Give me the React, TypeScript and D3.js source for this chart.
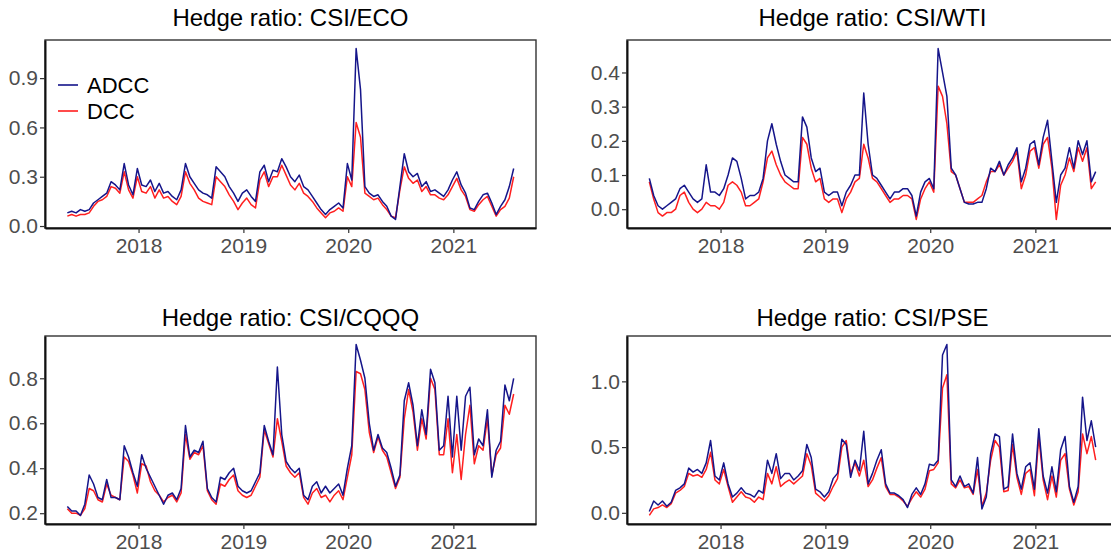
import { useEffect, useRef } from 'react'
import * as d3 from 'd3'

// time span of the series (roughly half-monthly observations)
const startDate = new Date(2017, 3, 28)
const endDate = new Date(2021, 6, 30)
const yearTicks = [2018, 2019, 2020, 2021]
const seriesNames = ['ADCC', 'DCC']

// CSI/ECO
const ecoAdcc = [
  0.08, 0.09, 0.08, 0.10, 0.09, 0.10, 0.14, 0.16, 0.18, 0.20, 0.27, 0.25, 0.22, 0.38, 0.25, 0.19,
  0.35, 0.25, 0.24, 0.28, 0.21, 0.26, 0.20, 0.21, 0.18, 0.16, 0.22, 0.38, 0.30, 0.26, 0.22, 0.20, 0.19, 0.17, 0.36, 0.33, 0.30, 0.24, 0.20, 0.15,
  0.20, 0.22, 0.18, 0.15, 0.33, 0.37, 0.27, 0.34, 0.33, 0.41, 0.36, 0.30, 0.27, 0.31, 0.24, 0.22, 0.18, 0.14, 0.10, 0.07, 0.10, 0.12, 0.14, 0.11,
  0.38, 0.28, 1.08, 0.83, 0.24, 0.20, 0.18, 0.19, 0.15, 0.12, 0.06, 0.04, 0.24, 0.44, 0.33, 0.30, 0.32, 0.24, 0.27, 0.21, 0.22, 0.20, 0.18, 0.22,
  0.28, 0.33, 0.25, 0.20, 0.11, 0.10, 0.15, 0.19, 0.20, 0.14, 0.07, 0.12, 0.16, 0.24, 0.35,
]
const ecoDcc = [
  0.06, 0.07, 0.06, 0.07, 0.07, 0.08, 0.12, 0.15, 0.16, 0.18, 0.24, 0.23, 0.20, 0.33, 0.22, 0.17,
  0.30, 0.21, 0.20, 0.24, 0.17, 0.22, 0.17, 0.18, 0.15, 0.13, 0.18, 0.33, 0.26, 0.22, 0.17, 0.15, 0.14, 0.13, 0.30, 0.27, 0.24, 0.19, 0.15, 0.10,
  0.14, 0.17, 0.13, 0.11, 0.28, 0.33, 0.24, 0.30, 0.30, 0.37, 0.31, 0.25, 0.22, 0.26, 0.20, 0.18, 0.15, 0.11, 0.08, 0.05, 0.08, 0.09, 0.11, 0.09,
  0.30, 0.24, 0.63, 0.54, 0.20, 0.18, 0.16, 0.17, 0.13, 0.10, 0.06, 0.05, 0.22, 0.36, 0.29, 0.26, 0.28, 0.21, 0.24, 0.19, 0.19, 0.17, 0.16, 0.19,
  0.24, 0.29, 0.22, 0.18, 0.10, 0.09, 0.13, 0.16, 0.18, 0.12, 0.06, 0.10, 0.12, 0.17, 0.30,
]
const ecoTicks = [0, 0.3, 0.6, 0.9]

// CSI/WTI
const wtiAdcc = [
  0.09, 0.04, 0.01, 0.00, 0.01, 0.02, 0.03, 0.06, 0.07, 0.05, 0.03, 0.02, 0.03, 0.13, 0.05, 0.05,
  0.04, 0.06, 0.10, 0.15, 0.14, 0.09, 0.03, 0.04, 0.04, 0.05, 0.09, 0.20, 0.25, 0.19, 0.14, 0.10, 0.09, 0.08, 0.08, 0.27, 0.24, 0.15, 0.11, 0.12,
  0.05, 0.04, 0.05, 0.05, 0.01, 0.05, 0.07, 0.10, 0.10, 0.34, 0.19, 0.10, 0.09, 0.07, 0.05, 0.03, 0.05, 0.05, 0.06, 0.06, 0.04, -0.02, 0.05, 0.08,
  0.09, 0.06, 0.47, 0.40, 0.33, 0.12, 0.10, 0.06, 0.02, 0.015, 0.015, 0.02, 0.02, 0.06, 0.12, 0.11, 0.14, 0.10, 0.13, 0.15, 0.18, 0.08, 0.12, 0.19,
  0.20, 0.13, 0.21, 0.26, 0.14, 0.02, 0.10, 0.12, 0.18, 0.12, 0.20, 0.16, 0.20, 0.08, 0.11,
]
const wtiDcc = [
  0.08, 0.03, -0.01, -0.02, -0.01, -0.01, 0.00, 0.04, 0.05, 0.02, 0.00, -0.01, 0.00, 0.02, 0.01, 0.01,
  0.00, 0.02, 0.07, 0.08, 0.07, 0.05, 0.01, 0.01, 0.02, 0.03, 0.08, 0.15, 0.17, 0.13, 0.10, 0.08, 0.07, 0.06, 0.06, 0.21, 0.19, 0.12, 0.08, 0.09,
  0.03, 0.02, 0.03, 0.03, -0.01, 0.03, 0.05, 0.08, 0.09, 0.19, 0.15, 0.09, 0.08, 0.06, 0.04, 0.02, 0.03, 0.03, 0.04, 0.04, 0.03, -0.03, 0.03, 0.06,
  0.08, 0.05, 0.36, 0.33, 0.25, 0.11, 0.10, 0.06, 0.02, 0.02, 0.02, 0.03, 0.04, 0.08, 0.11, 0.11, 0.13, 0.10, 0.12, 0.14, 0.17, 0.06, 0.10, 0.17,
  0.18, 0.12, 0.19, 0.21, 0.12, -0.03, 0.07, 0.10, 0.15, 0.11, 0.18, 0.14, 0.18, 0.06, 0.08,
]
const wtiTicks = [0, 0.1, 0.2, 0.3, 0.4]

// CSI/CQQQ
const cqqqAdcc = [
  0.23, 0.21, 0.21, 0.19, 0.24, 0.37, 0.33, 0.27, 0.26, 0.35, 0.27, 0.27, 0.26, 0.50, 0.45, 0.38,
  0.32, 0.46, 0.40, 0.36, 0.32, 0.28, 0.24, 0.28, 0.29, 0.26, 0.31, 0.59, 0.45, 0.48, 0.47, 0.52, 0.31, 0.27, 0.25, 0.36, 0.35, 0.38, 0.40, 0.32,
  0.30, 0.29, 0.30, 0.34, 0.38, 0.59, 0.52, 0.46, 0.85, 0.55, 0.43, 0.40, 0.38, 0.40, 0.28, 0.26, 0.32, 0.34, 0.29, 0.32, 0.29, 0.31, 0.33, 0.28,
  0.40, 0.50, 0.95, 0.88, 0.80, 0.60, 0.48, 0.55, 0.49, 0.47, 0.40, 0.32, 0.37, 0.70, 0.78, 0.68, 0.50, 0.66, 0.55, 0.84, 0.78, 0.48, 0.50, 0.72,
  0.45, 0.72, 0.48, 0.72, 0.76, 0.46, 0.53, 0.50, 0.66, 0.36, 0.48, 0.52, 0.77, 0.70, 0.80,
]
const cqqqDcc = [
  0.22, 0.20, 0.20, 0.19, 0.22, 0.31, 0.30, 0.26, 0.25, 0.33, 0.28, 0.27, 0.26, 0.45, 0.43, 0.37,
  0.29, 0.42, 0.41, 0.34, 0.30, 0.28, 0.25, 0.27, 0.28, 0.25, 0.29, 0.55, 0.44, 0.47, 0.46, 0.50, 0.30, 0.26, 0.24, 0.33, 0.32, 0.35, 0.37, 0.30,
  0.28, 0.27, 0.28, 0.32, 0.36, 0.57, 0.51, 0.45, 0.62, 0.52, 0.41, 0.38, 0.36, 0.38, 0.27, 0.24, 0.29, 0.31, 0.27, 0.28, 0.25, 0.28, 0.30, 0.26,
  0.36, 0.46, 0.83, 0.82, 0.75, 0.56, 0.47, 0.54, 0.48, 0.45, 0.38, 0.31, 0.36, 0.62, 0.75, 0.65, 0.48, 0.62, 0.53, 0.80, 0.75, 0.46, 0.46, 0.62,
  0.38, 0.55, 0.35, 0.55, 0.68, 0.42, 0.50, 0.48, 0.62, 0.37, 0.46, 0.49, 0.68, 0.64, 0.73,
]
const cqqqTicks = [0.2, 0.4, 0.6, 0.8]

// CSI/PSE
const pseAdcc = [
  0.01, 0.09, 0.06, 0.09, 0.05, 0.08, 0.17, 0.19, 0.22, 0.34, 0.31, 0.33, 0.30, 0.38, 0.55, 0.28,
  0.25, 0.38, 0.22, 0.12, 0.15, 0.19, 0.15, 0.14, 0.12, 0.17, 0.15, 0.40, 0.30, 0.45, 0.26, 0.30, 0.30, 0.25, 0.28, 0.32, 0.52, 0.42, 0.18, 0.16,
  0.12, 0.16, 0.26, 0.30, 0.56, 0.52, 0.27, 0.40, 0.32, 0.62, 0.22, 0.30, 0.40, 0.48, 0.22, 0.15, 0.15, 0.13, 0.10, 0.04, 0.14, 0.19, 0.14, 0.22,
  0.37, 0.36, 0.40, 1.20, 1.28, 0.25, 0.20, 0.28, 0.20, 0.22, 0.15, 0.42, 0.03, 0.12, 0.45, 0.60, 0.58, 0.18, 0.20, 0.60, 0.30, 0.18, 0.35, 0.38,
  0.18, 0.64, 0.28, 0.15, 0.35, 0.16, 0.48, 0.58, 0.20, 0.08, 0.20, 0.88, 0.55, 0.70, 0.50,
]
const pseDcc = [
  -0.02, 0.03, 0.04, 0.06, 0.04, 0.07, 0.15, 0.17, 0.20, 0.30, 0.28, 0.29, 0.27, 0.33, 0.46, 0.25,
  0.22, 0.33, 0.20, 0.08, 0.12, 0.16, 0.12, 0.11, 0.08, 0.12, 0.10, 0.30, 0.22, 0.35, 0.20, 0.23, 0.25, 0.22, 0.25, 0.28, 0.45, 0.36, 0.15, 0.12,
  0.09, 0.13, 0.20, 0.26, 0.50, 0.55, 0.30, 0.38, 0.28, 0.40, 0.20, 0.25, 0.34, 0.42, 0.20, 0.14, 0.14, 0.12, 0.09, 0.05, 0.11, 0.16, 0.12, 0.18,
  0.32, 0.33, 0.38, 0.95, 1.05, 0.22, 0.19, 0.25, 0.19, 0.20, 0.14, 0.33, 0.05, 0.15, 0.40, 0.55, 0.50, 0.16, 0.17, 0.52, 0.27, 0.14, 0.30, 0.33,
  0.13, 0.58, 0.25, 0.10, 0.28, 0.12, 0.40, 0.45, 0.18, 0.06, 0.16, 0.60, 0.45, 0.58, 0.40,
]
const pseTicks = [0, 0.5, 1.0]

const panels = [
  { title: 'Hedge ratio: CSI/ECO', adcc: ecoAdcc, dcc: ecoDcc, ticks: ecoTicks, left: 45, top: 40, titleGap: 14, legend: true },
  { title: 'Hedge ratio: CSI/WTI', adcc: wtiAdcc, dcc: wtiDcc, ticks: wtiTicks, left: 627, top: 40, titleGap: 14, legend: false },
  { title: 'Hedge ratio: CSI/CQQQ', adcc: cqqqAdcc, dcc: cqqqDcc, ticks: cqqqTicks, left: 45, top: 336, titleGap: 10, legend: false },
  { title: 'Hedge ratio: CSI/PSE', adcc: pseAdcc, dcc: pseDcc, ticks: pseTicks, left: 627, top: 336, titleGap: 10, legend: false },
]

const colors = { ADCC: '#15158a', DCC: '#ff1f1f' }
const font = '"Liberation Sans", Arial, Helvetica, sans-serif'

export default function App() {
  const ref = useRef<SVGSVGElement>(null)

  useEffect(() => {
    const width = 1111
    const height = 555
    const pw = 491
    const ph = 188

    const svg = d3.select(ref.current)
      .attr('width', width)
      .attr('height', height)
      .attr('viewBox', [0, 0, width, height])
      .style('background', '#fff')
    svg.selectAll('*').remove()

    const n = ecoAdcc.length
    const dates = d3.range(n).map(i => new Date(+startDate + (+endDate - +startDate) * i / (n - 1)))
    const span = +endDate - +startDate

    // ggplot-like 5% expansion on the time axis
    const x = d3.scaleTime()
      .domain([new Date(+startDate - span * 0.05), new Date(+endDate + span * 0.05)])
      .range([0, pw])

    panels.forEach(p => {
      const g = svg.append('g').attr('transform', `translate(${p.left},${p.top})`)

      const [lo, hi] = d3.extent([...p.adcc, ...p.dcc]) as [number, number]
      const pad = (hi - lo) * 0.05
      const y = d3.scaleLinear().domain([lo - pad, hi + pad]).range([ph, 0])

      const line = d3.line<number>()
        .x((_, i) => x(dates[i]))
        .y(d => y(d))

      g.append('path')
        .datum(p.dcc)
        .attr('fill', 'none')
        .attr('stroke', colors.DCC)
        .attr('stroke-width', 1.5)
        .attr('stroke-linejoin', 'round')
        .attr('d', line)

      g.append('path')
        .datum(p.adcc)
        .attr('fill', 'none')
        .attr('stroke', colors.ADCC)
        .attr('stroke-width', 1.5)
        .attr('stroke-linejoin', 'round')
        .attr('d', line)

      // panel border
      g.append('rect')
        .attr('width', pw)
        .attr('height', ph)
        .attr('fill', 'none')
        .attr('stroke', '#333')
        .attr('stroke-width', 1.4)

      // y axis
      const ya = g.append('g')
        .call(d3.axisLeft(y).tickValues(p.ticks).tickFormat(d3.format('.1f')).tickSize(5).tickSizeOuter(0).tickPadding(2))
      ya.select('.domain').attr('stroke', '#111').attr('stroke-width', 2)
      ya.selectAll('.tick line').attr('stroke', '#333').attr('stroke-width', 1.2)
      ya.selectAll('.tick text').attr('fill', '#4d4d4d').attr('font-size', 21).attr('font-family', font)

      // x axis
      const xa = g.append('g')
        .attr('transform', `translate(0,${ph})`)
        .call(d3.axisBottom(x).tickValues(yearTicks.map(yr => new Date(yr, 0, 1))).tickFormat(d3.timeFormat('%Y') as any).tickSize(5).tickSizeOuter(0).tickPadding(5))
      xa.select('.domain').attr('stroke', '#111').attr('stroke-width', 2)
      xa.selectAll('.tick line').attr('stroke', '#333').attr('stroke-width', 1.2)
      xa.selectAll('.tick text').attr('fill', '#4d4d4d').attr('font-size', 21).attr('font-family', font)

      // title
      g.append('text')
        .attr('x', pw / 2)
        .attr('y', -p.titleGap)
        .attr('text-anchor', 'middle')
        .attr('font-size', 24)
        .attr('font-family', font)
        .attr('fill', '#000')
        .text(p.title)

      if (p.legend) {
        const lg = g.append('g').attr('transform', 'translate(13,45)')
        seriesNames.forEach((name, i) => {
          lg.append('line')
            .attr('x1', 0).attr('x2', 20)
            .attr('y1', i * 26).attr('y2', i * 26)
            .attr('stroke', colors[name as 'ADCC' | 'DCC'])
            .attr('stroke-width', 1.6)
          lg.append('text')
            .attr('x', 29)
            .attr('y', i * 26)
            .attr('dy', '0.36em')
            .attr('font-size', 22)
            .attr('font-family', font)
            .attr('fill', '#000')
            .text(name)
        })
      }
    })
  }, [])

  return <svg ref={ref} style={{ position: 'absolute', left: 0, top: 0, display: 'block' }} />
}
